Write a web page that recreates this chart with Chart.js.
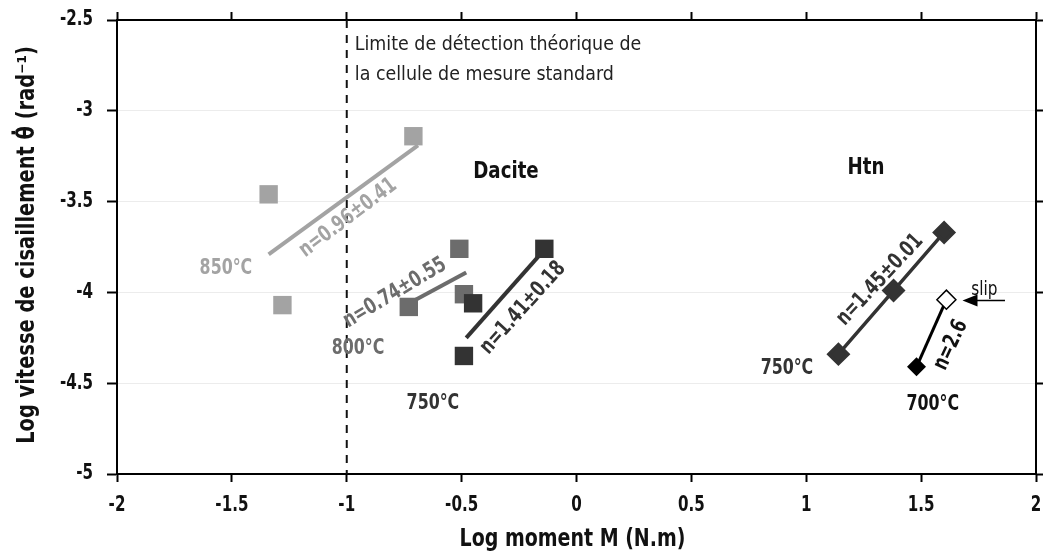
<!DOCTYPE html>
<html>
<head>
<meta charset="utf-8">
<script src="https://cdn.jsdelivr.net/npm/chart.js@4.4.1/dist/chart.umd.min.js"></script>
<style>
  html, body { margin: 0; padding: 0; background: #fff; }
  #wrap { width: 1043px; height: 553px; }
</style>
</head>
<body>
<div id="wrap"><canvas id="chart" width="1043" height="553"></canvas></div>
<script>
// Dacite, points (log M, log shear rate)
const dac850X = [-1.34, -1.28, -0.71]
const dac850Y = [-3.46, -4.07, -3.14]
const dac800X = [-0.73, -0.51, -0.49]
const dac800Y = [-4.08, -3.76, -4.01]
const dac750X = [-0.45, -0.49, -0.14]
const dac750Y = [-4.06, -4.35, -3.76]

// Dacite fitted lines (end points)
const fit850X = [-1.34, -0.69]
const fit850Y = [-3.79, -3.19]
const fit800X = [-0.70, -0.48]
const fit800Y = [-4.04, -3.89]
const fit750X = [-0.48, -0.15]
const fit750Y = [-4.25, -3.78]

// Htn
const htn750X = [1.14, 1.38, 1.60]
const htn750Y = [-4.34, -3.99, -3.67]
const htn700X = [1.48]
const htn700Y = [-4.41]
const slipX = [1.61]
const slipY = [-4.04]

// detection limit
const limitX = [-1, -1]
const limitY = [-2.5, -5]

const xTicks = [-2, -1.5, -1, -0.5, 0, 0.5, 1, 1.5, 2]
const yTicks = [-2.5, -3, -3.5, -4, -4.5, -5]

const toPts = (xs, ys) => xs.map((x, i) => ({ x, y: ys[i] }))

const FONT = '"DejaVu Sans Condensed", "Liberation Sans Narrow", sans-serif'
const LIGHT = '#a3a3a3'
const MID = '#6c6c6c'
const DARK = '#333333'

// text labels drawn on the chart (data coordinates), sx = horizontal squeeze
const notes = [
    { t: 'Limite de détection théorique de', x: -0.965, y: -2.638, c: '#222', s: 20, w: 'normal', a: 'left', sx: 0.97 },
    { t: 'la cellule de mesure standard', x: -0.965, y: -2.803, c: '#222', s: 20, w: 'normal', a: 'left', sx: 0.97 },
    { t: 'Dacite', x: -0.307, y: -3.337, c: '#111', s: 23, w: 'bold', sx: 0.88 },
    { t: 'Htn', x: 1.26, y: -3.315, c: '#111', s: 23, w: 'bold', sx: 0.88 },
    { t: '850°C', x: -1.526, y: -3.866, c: LIGHT, s: 22, w: 'bold' },
    { t: '800°C', x: -0.951, y: -4.306, c: MID, s: 22, w: 'bold' },
    { t: '750°C', x: -0.625, y: -4.609, c: DARK, s: 22, w: 'bold' },
    { t: '750°C', x: 0.916, y: -4.416, c: DARK, s: 22, w: 'bold' },
    { t: '700°C', x: 1.551, y: -4.615, c: '#111', s: 22, w: 'bold' },
    { t: 'n=0.96±0.41', x: -0.994, y: -3.59, c: LIGHT, s: 22, w: 'bold', r: -37 },
    { t: 'n=0.74±0.55', x: -0.79, y: -4.003, c: MID, s: 22, w: 'bold', r: -31 },
    { t: 'n=1.41±0.18', x: -0.233, y: -4.086, c: DARK, s: 22, w: 'bold', r: -48 },
    { t: 'n=1.45±0.01', x: 1.321, y: -3.932, c: DARK, s: 22, w: 'bold', r: -47 },
    { t: 'n=2.6', x: 1.63, y: -4.29, c: '#111', s: 22, w: 'bold', r: -65 },
    { t: 'slip', x: 1.775, y: -3.985, c: '#111', s: 20, w: 'normal', sx: 0.85 }
]

const drawText = (ctx, t, px, py, o) => {
    ctx.save()
    ctx.translate(px, py)
    if (o.r) ctx.rotate(o.r * Math.PI / 180)
    ctx.scale(o.sx || 0.8, 1)
    ctx.font = `${o.w || 'bold'} ${o.s}px ${FONT}`
    ctx.fillStyle = o.c || '#111'
    ctx.textAlign = o.a || 'center'
    ctx.textBaseline = 'middle'
    ctx.fillText(t, 0, 0)
    ctx.restore()
}

const notesPlugin = {
    id: 'notes',
    afterDatasetsDraw(chart) {
        const { ctx, scales: { x, y } } = chart
        ctx.save()
        // slip arrow
        const ay = y.getPixelForValue(-4.045)
        const x0 = x.getPixelForValue(1.865)
        const x1 = x.getPixelForValue(1.68)
        ctx.strokeStyle = '#000'
        ctx.fillStyle = '#000'
        ctx.lineWidth = 1.5
        ctx.beginPath()
        ctx.moveTo(x0, ay)
        ctx.lineTo(x1 + 10, ay)
        ctx.stroke()
        ctx.beginPath()
        ctx.moveTo(x1, ay)
        ctx.lineTo(x1 + 15, ay - 6)
        ctx.lineTo(x1 + 15, ay + 6)
        ctx.closePath()
        ctx.fill()
        ctx.restore()

        notes.forEach(n => drawText(ctx, n.t, x.getPixelForValue(n.x), y.getPixelForValue(n.y), n))
    },
    afterDraw(chart) {
        // tick labels and axis titles, drawn from the library scales
        const { ctx, scales: { x, y }, chartArea } = chart
        x.ticks.forEach(t => {
            drawText(ctx, String(t.value), x.getPixelForValue(t.value), chartArea.bottom + 32, { s: 21, sx: 0.8 })
        })
        y.ticks.forEach(t => {
            drawText(ctx, String(t.value), chartArea.left - 24, y.getPixelForValue(t.value), { s: 21, sx: 0.8, a: 'right' })
        })
        drawText(ctx, 'Log moment M (N.m)', (chartArea.left + chartArea.right) / 2 - 4, chartArea.bottom + 66, { s: 24, sx: 0.88 })
        drawText(ctx, 'Log vitesse de cisaillement θ̇ (rad⁻¹)', 28, (chartArea.top + chartArea.bottom) / 2 - 2, { s: 24, sx: 0.9, r: -90 })
    }
}

const lineSet = (xs, ys, color, width, dash) => ({
    data: toPts(xs, ys),
    showLine: true,
    borderColor: color,
    borderWidth: width,
    borderDash: dash || [],
    pointRadius: 0,
    pointHoverRadius: 0,
    fill: false
})

const sqSet = (xs, ys, color) => ({
    data: toPts(xs, ys),
    pointStyle: 'rect',
    pointRadius: 13,
    backgroundColor: color,
    borderColor: color,
    borderWidth: 0,
    showLine: false
})

const edgeScale = (pos, ticks, size) => ({
    type: 'linear',
    position: pos,
    min: pos === 'top' || pos === 'bottom' ? -2 : -5,
    max: pos === 'top' || pos === 'bottom' ? 2 : -2.5,
    afterBuildTicks: s => { s.ticks = ticks.map(v => ({ value: v })) },
    afterFit: s => {
        if (pos === 'top' || pos === 'bottom') s.height = size
        else s.width = size
    },
    grid: {
        drawOnChartArea: pos === 'left',
        color: '#ececec',
        lineWidth: 1,
        drawTicks: true,
        tickLength: pos === 'left' ? 10 : 8,
        tickWidth: 2,
        tickColor: '#000'
    },
    border: { display: true, color: '#000', width: 2 },
    ticks: { display: false }
})

const ctx = document.getElementById('chart').getContext('2d')

new Chart(ctx, {
    type: 'scatter',
    data: {
        datasets: [
            // first dataset is drawn on top
            {
                data: toPts(slipX, slipY),
                pointStyle: 'rectRot',
                pointRadius: 9.5,
                backgroundColor: '#fff',
                borderColor: '#000',
                borderWidth: 1.5
            },
            {
                data: toPts(htn700X, htn700Y),
                pointStyle: 'rectRot',
                pointRadius: 9.5,
                backgroundColor: '#000',
                borderColor: '#000',
                borderWidth: 0
            },
            lineSet(htn700X.concat(slipX), htn700Y.concat(slipY), '#000', 3),
            {
                data: toPts(htn750X, htn750Y),
                pointStyle: 'rectRot',
                pointRadius: 9.5,
                backgroundColor: DARK,
                borderColor: DARK,
                showLine: true,
                borderWidth: 3.5
            },
            sqSet(dac750X, dac750Y, DARK),
            lineSet(fit750X, fit750Y, DARK, 4),
            sqSet(dac800X, dac800Y, MID),
            lineSet(fit800X, fit800Y, MID, 4),
            sqSet(dac850X, dac850Y, LIGHT),
            lineSet(fit850X, fit850Y, LIGHT, 4),
            lineSet(limitX, limitY, '#111', 2, [8, 7])
        ]
    },
    options: {
        responsive: false,
        animation: false,
        events: [],
        layout: { padding: 0, autoPadding: false },
        plugins: {
            legend: { display: false },
            tooltip: { enabled: false }
        },
        scales: {
            x: edgeScale('bottom', xTicks, 79),
            x2: edgeScale('top', xTicks, 20),
            y: edgeScale('left', yTicks, 117),
            y2: edgeScale('right', yTicks, 7)
        }
    },
    plugins: [notesPlugin]
})
</script>
</body>
</html>
